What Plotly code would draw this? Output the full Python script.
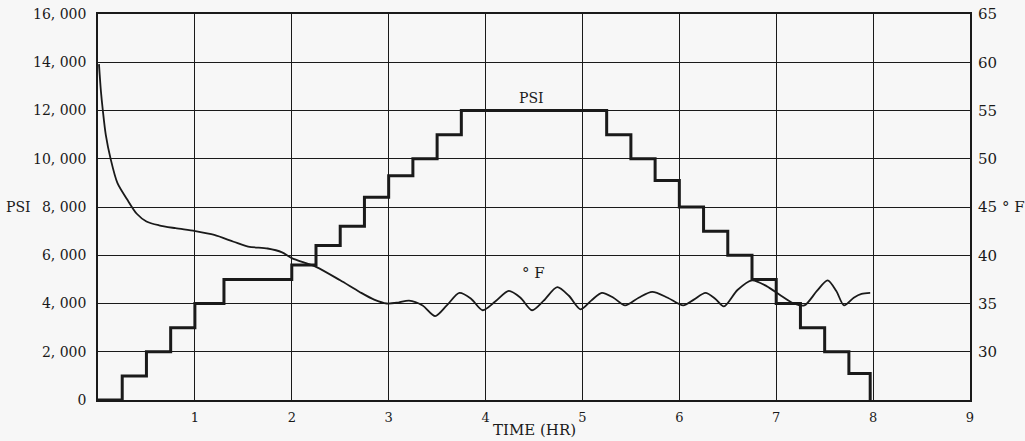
import plotly.graph_objects as go

# PSI step schedule (hour at which step begins, PSI level)
psi_hours = [0, 0.25, 0.5, 0.75, 1.0, 1.3, 2.0, 2.25, 2.5, 2.75, 3.0, 3.25, 3.5, 3.75,
             5.25, 5.5, 5.75, 6.0, 6.25, 6.5, 6.75, 7.0, 7.25, 7.5, 7.75, 7.97]
psi_values = [0, 1000, 2000, 3000, 4000, 5000, 5600, 6400, 7200, 8400, 9300, 10000, 11000, 12000,
              11000, 10000, 9100, 8000, 7000, 6000, 5000, 4000, 3000, 2000, 1100, 0]

# Temperature (°F) readings
temp_hours = [0.01, 0.03, 0.05, 0.08, 0.13, 0.2, 0.3, 0.4, 0.5, 0.63, 0.8, 1.0, 1.2, 1.4, 1.55,
              1.75, 1.9, 2.0, 2.25, 2.5, 2.7, 2.85, 2.98, 3.1, 3.21, 3.35, 3.48, 3.6, 3.73, 3.85,
              3.97, 4.1, 4.24, 4.36, 4.48, 4.6, 4.74, 4.86, 4.98, 5.09, 5.2, 5.32, 5.44, 5.58,
              5.72, 5.88, 6.04, 6.15, 6.27, 6.37, 6.46, 6.6, 6.75, 6.9, 7.05, 7.18, 7.29, 7.42,
              7.53, 7.62, 7.7, 7.8, 7.88, 7.97]
temp_values = [59.8, 57.0, 55.0, 52.5, 50.0, 47.5, 45.8, 44.3, 43.5, 43.1, 42.8, 42.5, 42.1, 41.4,
               40.9, 40.7, 40.3, 39.7, 38.8, 37.4, 36.2, 35.4, 35.0, 35.1, 35.3, 34.8, 33.7, 34.8,
               36.1, 35.5, 34.3, 35.2, 36.3, 35.6, 34.3, 35.3, 36.7, 35.8, 34.4, 35.3, 36.1, 35.6,
               34.8, 35.6, 36.2, 35.6, 34.8, 35.4, 36.1, 35.5, 34.7, 36.4, 37.4, 36.8, 35.8, 35.0,
               34.8, 36.3, 37.4, 36.3, 34.8, 35.6, 36.0, 36.1]

x_ticks = [1, 2, 3, 4, 5, 6, 7, 8, 9]
psi_ticks = [0, 2000, 4000, 6000, 8000, 10000, 12000, 14000, 16000]
psi_tick_text = ["0", "2, 000", "4, 000", "6, 000", "8, 000", "10, 000", "12, 000", "14, 000", "16, 000"]
temp_ticks = [30, 35, 40, 45, 50, 55, 60, 65]

INK = "#1a1a1a"
BG = "#f7f7f7"
SERIF = "DejaVu Serif"

fig = go.Figure()
fig.add_trace(go.Scatter(x=psi_hours, y=psi_values, mode="lines", line_shape="hv",
                         line=dict(color=INK, width=3), yaxis="y", showlegend=False))
fig.add_trace(go.Scatter(x=temp_hours, y=temp_values, mode="lines", line_shape="spline",
                         line=dict(color=INK, width=1.8, smoothing=0.8), yaxis="y2", showlegend=False))

def label(text, x, xref, y, yref, size):
    return dict(text=text, x=x, xref=xref, y=y, yref=yref, showarrow=False,
                xanchor="center", yanchor="middle",
                font=dict(family=SERIF, size=size, color=INK))

fig.update_layout(
    width=1025, height=441,
    margin=dict(l=98, r=55, t=14, b=41),
    paper_bgcolor=BG, plot_bgcolor=BG,
    font=dict(family=SERIF, color=INK),
    xaxis=dict(range=[0, 9], tickvals=x_ticks, ticktext=[str(v) for v in x_ticks],
               showgrid=True, gridcolor=INK, gridwidth=1.3, zeroline=False,
               showline=True, linecolor=INK, linewidth=1.5, mirror=True,
               ticks="", ticklabelstandoff=5, automargin=False,
               tickfont=dict(family=SERIF, size=13, color=INK)),
    yaxis=dict(range=[0, 16000], tickvals=psi_ticks, ticktext=psi_tick_text,
               showgrid=True, gridcolor=INK, gridwidth=1.3, zeroline=False,
               showline=True, linecolor=INK, linewidth=1.5, mirror=True,
               ticks="", ticklabelstandoff=7, automargin=False,
               tickfont=dict(family=SERIF, size=14, color=INK)),
    yaxis2=dict(range=[25, 65], tickvals=temp_ticks, overlaying="y", side="right",
                showgrid=False, zeroline=False, showline=False, ticks="",
                ticklabelstandoff=7, automargin=False,
                tickfont=dict(family=SERIF, size=15, color=INK)),
    annotations=[
        label("PSI", -0.091, "paper", 8000, "y", 14),
        label("° F", 1.0495, "paper", 45, "y2", 15),
        label("TIME (HR)", 0.5, "paper", -0.077, "paper", 15),
        label("PSI", 4.47, "x", 12520, "y", 14),
        label("° F", 4.49, "x", 38.2, "y2", 15),
    ],
)

fig.write_html("out.html", config={"displayModeBar": False},
               post_script="document.body.style.margin='0';document.body.style.padding='0';")
